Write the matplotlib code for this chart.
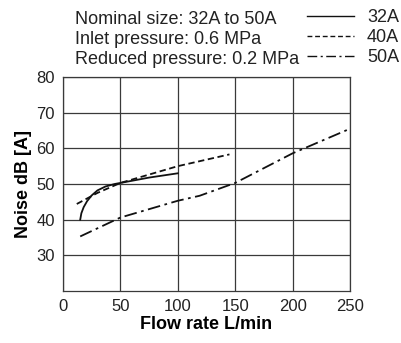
import matplotlib as mpl
import matplotlib.pyplot as plt
from matplotlib.lines import Line2D
mpl.use('Agg')

plt.rcParams['font.family'] = ['Liberation Sans', 'DejaVu Sans']

# 32A (solid)
flow_32 = [15, 16, 18, 21, 25, 30, 37, 45, 55, 75, 100]
noise_32 = [40, 41.8, 43.5, 45.2, 46.8, 48.2, 49.3, 50, 50.6, 51.8, 53]
# 40A (dashed)
flow_40 = [12, 30, 50, 100, 145]
noise_40 = [44.4, 47.5, 50.3, 55, 58.3]
# 50A (dash-dot)
flow_50 = [15, 50, 100, 119, 150, 200, 250]
noise_50 = [35.3, 40.6, 45.3, 46.7, 50.3, 58.6, 65.5]

legend_labels = ['32A', '40A', '50A']
header_lines = ['Nominal size: 32A to 50A', 'Inlet pressure: 0.6 MPa', 'Reduced pressure: 0.2 MPa']
x_ticks = [0, 50, 100, 150, 200, 250]
y_ticks = [30, 40, 50, 60, 70, 80]

fig = plt.figure(figsize=(4.01, 3.43), dpi=100)
ax = fig.add_axes([63 / 401, 1 - 291 / 343, (350 - 63) / 401, (291 - 77) / 343])

grid_col = '#3a3a3a'
ax.set_xlim(0, 250)
ax.set_ylim(20, 80)
ax.set_xticks(x_ticks)
ax.set_yticks(y_ticks)
ax.tick_params(length=0, labelsize=12, pad=6, colors='#222222')
ax.grid(True, color=grid_col, linewidth=0.9)
for s in ax.spines.values():
    s.set_color(grid_col)
    s.set_linewidth(0.9)

styles = ['-', (0, (3.5, 2)), (0, (7, 2.5, 1.5, 2.5))]
ax.plot(flow_32, noise_32, color='#111111', linestyle=styles[0], linewidth=1.3)
ax.plot(flow_40, noise_40, color='#111111', linestyle=styles[1], linewidth=1.3)
ax.plot(flow_50, noise_50, color='#111111', linestyle=styles[2], linewidth=1.3)

ax.set_xlabel('Flow rate L/min', fontsize=13, fontweight='bold', labelpad=1)
ax.set_ylabel('Noise dB [A]', fontsize=13, fontweight='bold', labelpad=3)

for i, txt in enumerate(header_lines):
    fig.text(75 / 401, 1 - (20 + i * 19.5) / 343, txt, fontsize=13, color='#222222', va='center')

for i, lab in enumerate(legend_labels):
    yy = 1 - (16 + i * 20) / 343
    fig.add_artist(Line2D([307 / 401, 354 / 401], [yy, yy], color='#111111',
                          linestyle=styles[i], linewidth=1.0))
    fig.text(367 / 401, 1 - (18 + i * 20) / 343, lab, fontsize=13, color='#222222', va='center')

fig.savefig('out.png', dpi=100)
plt.close()
